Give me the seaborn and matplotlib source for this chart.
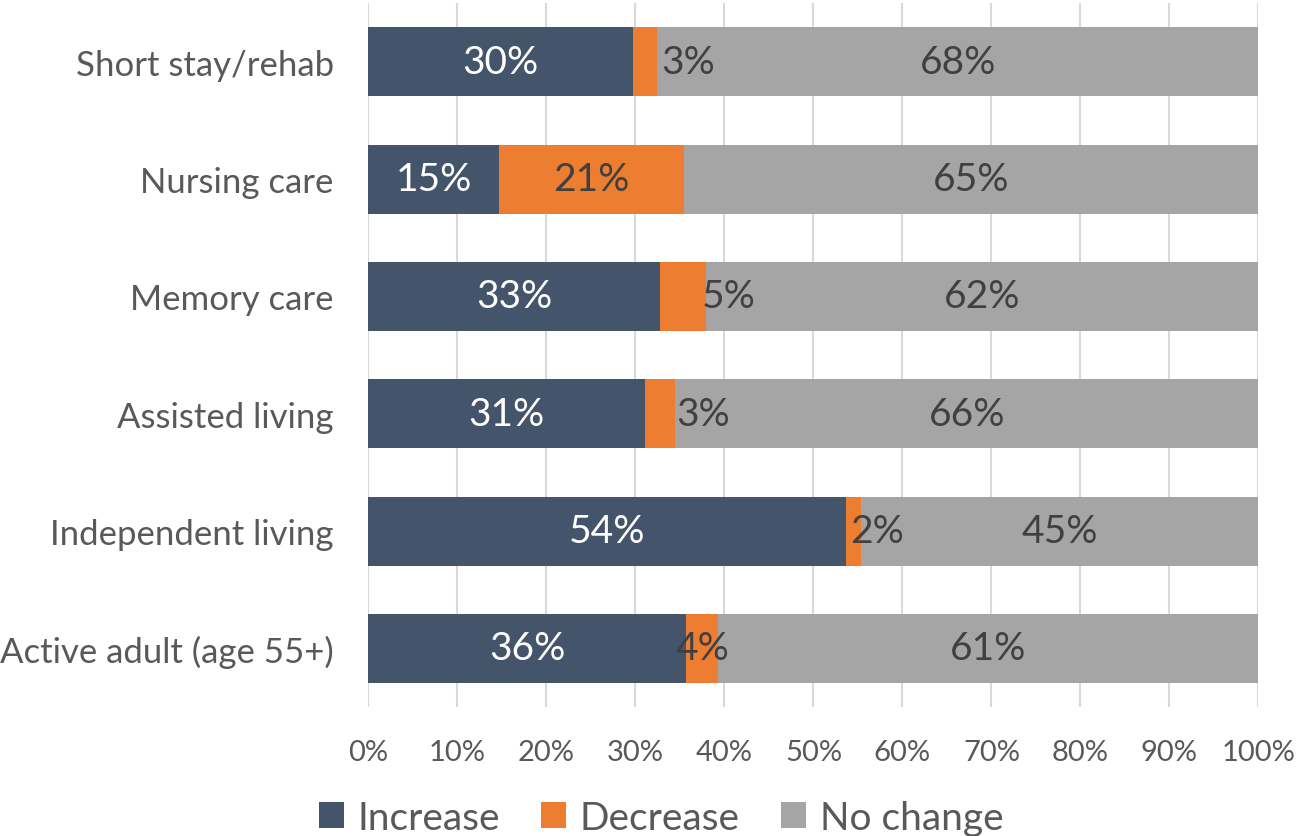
import matplotlib
matplotlib.use("Agg")
import matplotlib.pyplot as plt
import seaborn as sns
import pandas as pd
from matplotlib.patches import Patch

categories = ["Short stay/rehab", "Nursing care", "Memory care", "Assisted living",
              "Independent living", "Active adult (age 55+)"]
increase = [29.75, 14.66, 32.75, 31.07, 53.62, 35.67]
decrease = [2.70, 20.80, 5.17, 3.40, 1.75, 3.63]
no_change = [67.55, 64.54, 62.08, 65.53, 44.63, 60.70]
inc_labels = ["30%", "15%", "33%", "31%", "54%", "36%"]
dec_labels = ["3%", "21%", "5%", "3%", "2%", "4%"]
nc_labels = ["68%", "65%", "62%", "66%", "45%", "61%"]
dec_label_shift = [4.8, 0.0, 5.1, 4.8, 2.7, 0.0]  # manual label nudges (in %)
series_names = ["Increase", "Decrease", "No change"]
colors = ["#44546A", "#ED7D31", "#A5A5A5"]
xticks = [0, 10, 20, 30, 40, 50, 60, 70, 80, 90, 100]

sns.set_theme(style="white")
plt.rcParams["font.family"] = ["Lato", "DejaVu Sans"]

df = pd.DataFrame({"cat": categories, "inc": increase, "dec": decrease, "nc": no_change})
df["c1"] = df["inc"]
df["c2"] = df["inc"] + df["dec"]
df["c3"] = df["c2"] + df["nc"]

fig = plt.figure(figsize=(12.96, 8.37), dpi=100)
ax = fig.add_axes([0.2843, 0.154, 0.6867, 0.841])

bw = 0.59
sns.barplot(data=df, y="cat", x="c3", order=categories, color=colors[2], width=bw,
            saturation=1, ax=ax, orient="y", zorder=3)
sns.barplot(data=df, y="cat", x="c2", order=categories, color=colors[1], width=bw,
            saturation=1, ax=ax, orient="y", zorder=3)
sns.barplot(data=df, y="cat", x="c1", order=categories, color=colors[0], width=bw,
            saturation=1, ax=ax, orient="y", zorder=3)
for p in ax.patches:
    p.set_edgecolor("none")

label_fs = 28
for i in range(len(categories)):
    ax.text(df["inc"][i] / 2, i, inc_labels[i], ha="center", va="center",
            color="white", fontsize=label_fs, zorder=5)
    ax.text(df["c1"][i] + df["dec"][i] / 2 + dec_label_shift[i], i, dec_labels[i],
            ha="center", va="center", color="#404040", fontsize=label_fs, zorder=5)
    ax.text(df["c2"][i] + df["nc"][i] / 2, i, nc_labels[i], ha="center", va="center",
            color="#404040", fontsize=label_fs, zorder=5)

ax.set_xlim(0, 100)
ax.set_ylim(5.5, -0.5)
ax.set_xticks(xticks)
ax.set_xticklabels([f"{t}%" for t in xticks])
ax.set_xlabel("")
ax.set_ylabel("")
ax.grid(axis="x", color="#D9D9D9", linewidth=1.5, zorder=0)
ax.grid(axis="y", visible=False)
ax.set_axisbelow(True)
for s in ax.spines.values():
    s.set_visible(False)
ax.tick_params(axis="x", length=0, pad=23, labelsize=21, labelcolor="#595959")
ax.tick_params(axis="y", length=0, pad=25, labelsize=25, labelcolor="#595959")

handles = [Patch(facecolor=c, edgecolor="none", label=n) for c, n in zip(colors, series_names)]
fig.legend(handles=handles, loc="center", bbox_to_anchor=(0.51, 0.022), ncol=3,
           frameon=False, fontsize=28, handlelength=0.65, handleheight=0.65,
           handletextpad=0.35, columnspacing=1.05, labelcolor="#595959")

fig.savefig("out.png", dpi=100)
